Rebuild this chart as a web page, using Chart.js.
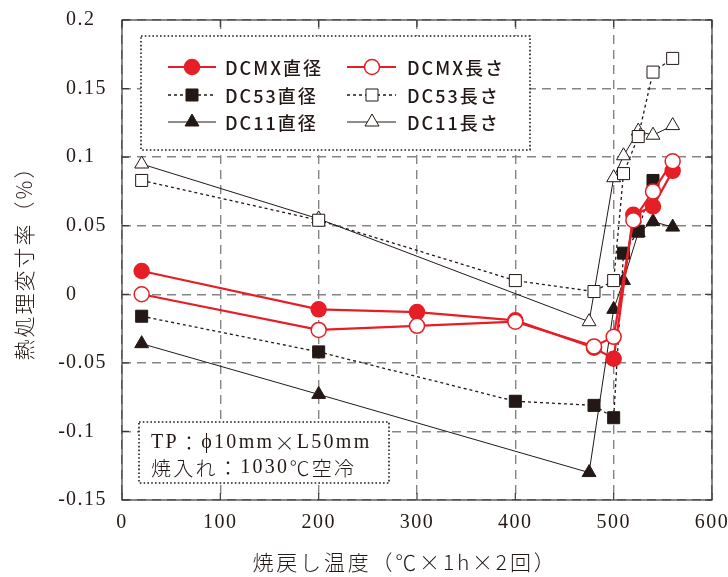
<!DOCTYPE html>
<html><head><meta charset="utf-8">
<script src="https://cdn.jsdelivr.net/npm/chart.js@4/dist/chart.umd.min.js"></script>
<style>html,body{margin:0;padding:0;background:#fff}#wrap{width:728px;height:577px}</style>
</head><body><div id="wrap"><canvas id="c" width="728" height="577"></canvas></div>
<script>
// ---- data ----
const seriesNames = ['DCMX直径','DCMX長さ','DC53直径','DC53長さ','DC11直径','DC11長さ'];
const dcmxDiaX = [20,200,300,400,480,500,520,540,560];
const dcmxDiaY = [0.017,-0.011,-0.013,-0.019,-0.039,-0.047,0.058,0.064,0.090];
const dcmxLenX = [20,200,300,400,480,500,520,540,560];
const dcmxLenY = [0.000,-0.026,-0.023,-0.020,-0.038,-0.031,0.054,0.075,0.097];
const dc53DiaX = [20,200,400,480,500,510,525,540];
const dc53DiaY = [-0.016,-0.042,-0.078,-0.081,-0.090,0.030,0.046,0.083];
const dc53LenX = [20,200,400,480,500,510,525,540,560];
const dc53LenY = [0.083,0.054,0.010,0.002,0.010,0.088,0.115,0.162,0.172];
const dc11DiaX = [20,200,475,500,510,525,540,560];
const dc11DiaY = [-0.036,-0.073,-0.130,-0.011,0.010,0.045,0.053,0.049];
const dc11LenX = [20,200,475,500,510,525,540,560];
const dc11LenY = [0.095,0.055,-0.020,0.085,0.101,0.119,0.116,0.123];
const xTicks = [0,100,200,300,400,500,600];
const yTicks = [-0.15,-0.1,-0.05,0,0.05,0.1,0.15,0.2];
const xTickLabels = ['0','100','200','300','400','500','600'];
const yTickLabels = ['-0.15','-0.1','-0.05','0','0.05','0.1','0.15','0.2'];
const xTitle = '焼戻し温度（℃×1h×2回）';
const yTitle = '熱処理変寸率（%）';
const noteLine1 = ['TP','：','ϕ10mm','×','L50mm'];
const noteLine2 = ['焼入れ','：','1030','℃空冷'];

const RED = '#e61e25', BLK = '#231815';
const pts = (xs, ys) => xs.map((x, i) => ({x, y: ys[i]}));

const datasets = [
  {label: seriesNames[0], data: pts(dcmxDiaX, dcmxDiaY), borderColor: RED, backgroundColor: RED,
   pointBackgroundColor: RED, pointBorderColor: RED, pointStyle: 'circle', pointRadius: 7.5, borderWidth: 2.2, pointBorderWidth: 1.5, order: 1, _dash: []},
  {label: seriesNames[1], data: pts(dcmxLenX, dcmxLenY), borderColor: RED, backgroundColor: '#fff',
   pointBackgroundColor: '#fff', pointBorderColor: RED, pointStyle: 'circle', pointRadius: 7.5, borderWidth: 2.2, pointBorderWidth: 1.5, order: 0, _dash: []},
  {label: seriesNames[2], data: pts(dc53DiaX, dc53DiaY), borderColor: BLK, backgroundColor: BLK, borderDash: [3,3],
   pointBackgroundColor: BLK, pointBorderColor: BLK, pointStyle: 'rect', pointRadius: 8.5, borderWidth: 1.3, pointBorderWidth: 1, order: 3, _dash: [3,3]},
  {label: seriesNames[3], data: pts(dc53LenX, dc53LenY), borderColor: BLK, backgroundColor: '#fff', borderDash: [3,3],
   pointBackgroundColor: '#fff', pointBorderColor: BLK, pointStyle: 'rect', pointRadius: 8.5, borderWidth: 1.3, pointBorderWidth: 1, order: 2, _dash: [3,3]},
  {label: seriesNames[4], data: pts(dc11DiaX, dc11DiaY), borderColor: BLK, backgroundColor: BLK,
   pointBackgroundColor: BLK, pointBorderColor: BLK, pointStyle: 'triangle', pointRadius: 8, borderWidth: 1, pointBorderWidth: 1, order: 5, _dash: []},
  {label: seriesNames[5], data: pts(dc11LenX, dc11LenY), borderColor: BLK, backgroundColor: '#fff',
   pointBackgroundColor: '#fff', pointBorderColor: BLK, pointStyle: 'triangle', pointRadius: 8, borderWidth: 1, pointBorderWidth: 1, order: 4, _dash: []}
];

const SERIF = '"Liberation Serif","DejaVu Serif",serif';
const SANS = '"Noto Sans CJK JP","Noto Sans",sans-serif';

function setLS(ctx, v) { try { ctx.letterSpacing = v; } catch (e) {} }

function drawMarker(ctx, ds, x, y) {
  ctx.save();
  ctx.setLineDash([]);
  ctx.fillStyle = ds.pointBackgroundColor;
  ctx.strokeStyle = ds.pointBorderColor;
  ctx.lineWidth = ds.pointBorderWidth;
  const r = ds.pointRadius;
  ctx.beginPath();
  if (ds.pointStyle === 'circle') {
    ctx.arc(x, y, r, 0, Math.PI * 2);
  } else if (ds.pointStyle === 'rect') {
    const s = r * Math.SQRT1_2;
    ctx.rect(x - s, y - s, 2 * s, 2 * s);
  } else {
    const h = r * 1.5, w = r * Math.sqrt(3);
    ctx.moveTo(x, y - r);
    ctx.lineTo(x - w / 2, y - r + h);
    ctx.lineTo(x + w / 2, y - r + h);
    ctx.closePath();
  }
  ctx.fill(); ctx.stroke();
  ctx.restore();
}

// draw alternating serif / CJK runs
function drawRuns(ctx, runs, x, y, cjkIdx) {
  runs.forEach((t, i) => {
    ctx.font = cjkIdx.includes(i) ? '300 20px ' + SANS : '20px ' + SERIF;
    ctx.fillText(t, x, y);
    x += ctx.measureText(t).width;
  });
}

const framePlugin = {
  id: 'frame',
  beforeDatasetsDraw(chart) {
    const {ctx, chartArea: a, scales} = chart;
    ctx.save();
    ctx.setLineDash([]);
    ctx.strokeStyle = '#3a3a3a';
    ctx.lineWidth = 1.2;
    ctx.strokeRect(a.left, a.top, a.right - a.left, a.bottom - a.top);
    // inward ticks
    const t = 7;
    ctx.beginPath();
    yTicks.forEach(v => {
      const y = scales.y.getPixelForValue(v);
      ctx.moveTo(a.left, y); ctx.lineTo(a.left + t, y);
      ctx.moveTo(a.right, y); ctx.lineTo(a.right - t, y);
    });
    xTicks.forEach(v => {
      const x = scales.x.getPixelForValue(v);
      ctx.moveTo(x, a.bottom); ctx.lineTo(x, a.bottom - t);
      ctx.moveTo(x, a.top); ctx.lineTo(x, a.top + t);
    });
    ctx.stroke();

    // tick labels
    ctx.fillStyle = '#231815';
    ctx.font = '20px ' + SERIF;
    ctx.textBaseline = 'middle';
    setLS(ctx, '1.5px');
    yTicks.forEach((v, i) => {
      const y = scales.y.getPixelForValue(v);
      let s = yTickLabels[i];
      if (s[0] === '-') {
        ctx.textAlign = 'right';
        setLS(ctx, '0px');
        ctx.fillText('-', 65, y);
        setLS(ctx, '1.5px');
        s = s.slice(1);
      }
      ctx.textAlign = 'left';
      ctx.fillText(s, 66, y);
    });
    ctx.textAlign = 'center';
    xTicks.forEach((v, i) => {
      const x = scales.x.getPixelForValue(v);
      ctx.fillText(xTickLabels[i], x, 523);
    });

    // axis titles
    ctx.font = '300 21px ' + SANS;
    setLS(ctx, '2.8px');
    ctx.textAlign = 'center';
    ctx.fillText(xTitle, 405, 562);
    ctx.save();
    ctx.translate(24, 258);
    ctx.rotate(-Math.PI / 2);
    ctx.font = '300 21px ' + SANS;
    setLS(ctx, '2px');
    ctx.fillText(yTitle, 0, 0);
    ctx.restore();
    setLS(ctx, '0px');
    ctx.restore();
  },
  afterDatasetsDraw(chart) {
    const {ctx} = chart;
    ctx.save();
    // legend box
    ctx.fillStyle = '#fff';
    ctx.fillRect(141, 36, 389, 114);
    ctx.strokeStyle = '#231815';
    ctx.lineWidth = 1.6;
    ctx.setLineDash([1.6, 2.2]);
    ctx.strokeRect(141, 36, 389, 114);
    const rows = [67, 95, 122];
    const cols = [{l0: 168, l1: 216, m: 192, t: 225}, {l0: 347, l1: 396, m: 372, t: 407}];
    const order = [[0, 1], [2, 3], [4, 5]];
    ctx.font = '500 18px ' + SANS;
    ctx.textBaseline = 'middle';
    ctx.textAlign = 'left';
    order.forEach((pair, r) => {
      pair.forEach((di, c) => {
        const ds = chart.data.datasets[di];
        const col = cols[c], y = rows[r];
        ctx.strokeStyle = ds.borderColor;
        ctx.lineWidth = ds.borderWidth;
        ctx.setLineDash(ds._dash);
        ctx.beginPath(); ctx.moveTo(col.l0, y); ctx.lineTo(col.l1, y); ctx.stroke();
        drawMarker(ctx, ds, col.m, y);
        ctx.fillStyle = '#231815';
        ctx.font = '500 18px ' + SANS;
        setLS(ctx, '2px');
        ctx.fillText(ds.label, col.t, y + 1);
        setLS(ctx, '0px');
      });
    });
    // note box
    ctx.fillStyle = '#fff';
    ctx.fillRect(139, 422, 250, 61);
    ctx.strokeStyle = '#231815';
    ctx.lineWidth = 1.6;
    ctx.setLineDash([1.6, 2.2]);
    ctx.strokeRect(139, 422, 250, 61);
    ctx.setLineDash([]);
    ctx.fillStyle = '#231815';
    setLS(ctx, '2.3px');
    drawRuns(ctx, noteLine1, 151, 443, [1, 3]);
    drawRuns(ctx, noteLine2, 151, 468, [0, 1, 3]);
    setLS(ctx, '0px');
    ctx.restore();
  }
};

new Chart(document.getElementById('c'), {
  type: 'line',
  data: {datasets},
  plugins: [framePlugin],
  options: {
    responsive: false,
    animation: false,
    events: [],
    layout: {padding: {top: 20, right: 16, left: 0, bottom: 0}},
    plugins: {legend: {display: false}, tooltip: {enabled: false}},
    elements: {line: {tension: 0, fill: false}},
    scales: {
      x: {
        type: 'linear', min: 0, max: 600,
        afterBuildTicks: s => { s.ticks = xTicks.map(v => ({value: v})); },
        afterFit: s => { s.height = 77; },
        ticks: {display: false},
        grid: {color: '#858585', lineWidth: 1.4, drawTicks: false},
        border: {display: false, dash: [9, 6]}
      },
      y: {
        type: 'linear', min: -0.15, max: 0.2,
        afterBuildTicks: s => { s.ticks = yTicks.map(v => ({value: v})); },
        afterFit: s => { s.width = 122; },
        ticks: {display: false},
        grid: {color: '#858585', lineWidth: 1.4, drawTicks: false},
        border: {display: false, dash: [9, 6]}
      }
    }
  }
});
</script></body></html>
